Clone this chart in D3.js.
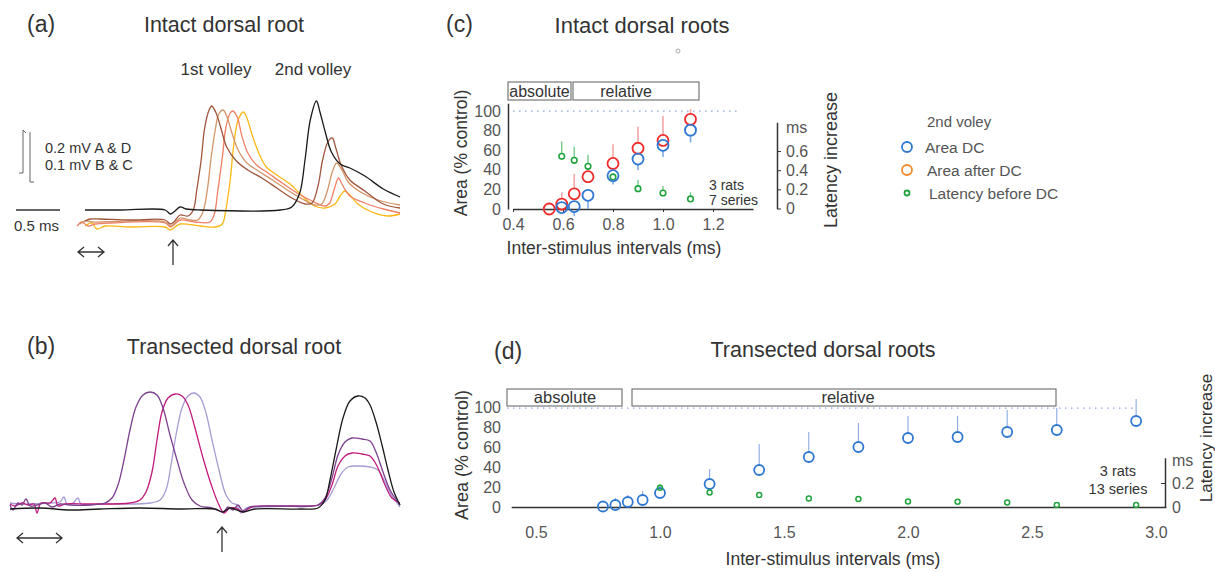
<!DOCTYPE html>
<html>
<head>
<meta charset="utf-8">
<title>Paired volleys, dorsal roots</title>
<script src="https://cdnjs.cloudflare.com/ajax/libs/d3/7.8.5/d3.min.js"></script>
<style>
    body { margin: 0; background: #fff; }
    svg { display: block; font-family: "Liberation Sans", Arial, sans-serif; }
</style>
</head>
<body>
<svg id="fig" width="1215" height="572"></svg>
<script>
//---------------- data ----------------
// (a) intact root, [time ms, amplitude mV]
const aControl = [[0,0],[0.40,0],[0.91,0],[0.97,-0.016],[1.01,-0.008],[1.08,0.012],[1.15,0.004],[1.31,0],[2.22,0],[2.35,0.012],[2.44,0.068],[2.50,0.2],[2.56,0.36],[2.63,0.436],[2.67,0.392],[2.73,0.312],[2.80,0.232],[2.90,0.184],[3.01,0.168],[3.18,0.136],[3.39,0.084],[3.58,0.052]]
const aIsi1 = [[0,-0.044],[0.057,-0.036],[0.17,-0.036],[0.51,-0.04],[0.91,-0.04],[0.97,-0.056],[1.01,-0.048],[1.08,-0.02],[1.17,-0.024],[1.23,0],[1.27,0.08],[1.32,0.2],[1.36,0.328],[1.41,0.4],[1.44,0.416],[1.49,0.388],[1.55,0.32],[1.61,0.252],[1.72,0.196],[1.85,0.16],[2.01,0.128],[2.18,0.088],[2.35,0.048],[2.50,0.024],[2.58,0.028],[2.65,0.1],[2.70,0.2],[2.76,0.272],[2.81,0.288],[2.85,0.248],[2.91,0.18],[3.01,0.12],[3.18,0.076],[3.39,0.024],[3.58,0.008]]
const aIsi2 = [[-0.057,-0.056],[0,-0.044],[0.08,-0.048],[0.17,-0.048],[0.91,-0.048],[0.97,-0.064],[1.01,-0.056],[1.08,-0.032],[1.19,-0.04],[1.28,-0.04],[1.34,-0.008],[1.39,0.08],[1.43,0.2],[1.48,0.32],[1.52,0.384],[1.57,0.4],[1.61,0.376],[1.67,0.308],[1.74,0.24],[1.84,0.188],[1.97,0.156],[2.13,0.12],[2.30,0.08],[2.47,0.044],[2.61,0.02],[2.69,0.024],[2.75,0.072],[2.81,0.152],[2.86,0.188],[2.92,0.16],[2.99,0.112],[3.13,0.072],[3.33,0.04],[3.58,0.02]]
const aIsi3 = [[-0.09,-0.064],[-0.034,-0.048],[0.034,-0.064],[0.114,-0.056],[0.28,-0.052],[0.91,-0.052],[0.97,-0.068],[1.01,-0.06],[1.08,-0.04],[1.25,-0.048],[1.42,-0.048],[1.47,-0.016],[1.51,0.08],[1.56,0.208],[1.60,0.328],[1.65,0.388],[1.68,0.396],[1.73,0.372],[1.78,0.30],[1.85,0.228],[1.95,0.18],[2.08,0.148],[2.24,0.108],[2.41,0.068],[2.58,0.036],[2.73,0.016],[2.78,0.028],[2.83,0.08],[2.88,0.128],[2.92,0.104],[3.01,0.056],[3.18,0.028],[3.39,0.004],[3.58,-0.012]]
const aIsi4 = [[0,-0.064],[0.08,-0.052],[0.136,-0.076],[0.23,-0.064],[0.51,-0.068],[0.91,-0.068],[0.97,-0.08],[1.01,-0.072],[1.08,-0.056],[1.31,-0.064],[1.48,-0.068],[1.56,-0.056],[1.60,0],[1.65,0.12],[1.69,0.26],[1.74,0.36],[1.80,0.392],[1.84,0.368],[1.90,0.30],[1.97,0.232],[2.06,0.172],[2.18,0.14],[2.33,0.104],[2.47,0.056],[2.61,0.016],[2.73,0.008],[2.84,0.024],[2.90,0.056],[2.95,0.076],[3.01,0.06],[3.10,0.024],[3.26,-0.008],[3.44,-0.024],[3.58,-0.016]]

// (b) transected root, [time ms, amplitude uV]
const bControl = [[0,-2],[0.30,0],[0.60,-4],[0.90,-2],[1.30,0],[1.70,-2],[2.05,-2],[2.13,-8],[2.20,0],[2.33,-8],[2.45,-2],[2.90,-2],[3.08,0],[3.15,16],[3.20,56],[3.26,116],[3.33,180],[3.40,214],[3.48,224],[3.55,220],[3.60,206],[3.66,172],[3.72,126],[3.78,76],[3.84,32],[3.90,6]]
const bIsi1 = [[0,6],[0.03,-4],[0.08,10],[0.12,6],[0.16,18],[0.20,4],[0.27,6],[0.35,10],[0.42,2],[0.50,8],[0.60,6],[0.80,6],[0.95,10],[1.02,20],[1.08,46],[1.14,96],[1.20,156],[1.26,202],[1.33,226],[1.40,232],[1.47,226],[1.53,200],[1.60,146],[1.67,96],[1.74,50],[1.82,16],[1.90,4],[2.02,0],[2.13,-8],[2.18,2],[2.23,-4],[2.28,6],[2.33,-6],[2.40,2],[2.70,4],[3.08,6],[3.15,20],[3.22,60],[3.28,106],[3.35,132],[3.42,140],[3.52,138],[3.60,134],[3.66,112],[3.73,72],[3.80,36],[3.90,6]]
const bIsi2 = [[0,8],[0.05,4],[0.12,10],[0.18,6],[0.24,8],[0.27,-10],[0.31,10],[0.40,10],[0.45,20],[0.48,4],[0.55,8],[0.80,8],[1.20,10],[1.30,16],[1.36,32],[1.42,72],[1.47,136],[1.52,192],[1.58,220],[1.65,228],[1.72,224],[1.78,206],[1.85,160],[1.93,100],[2.02,42],[2.09,6],[2.14,-10],[2.20,0],[2.26,0],[2.33,-8],[2.42,2],[2.80,4],[3.08,6],[3.15,16],[3.22,46],[3.28,84],[3.35,104],[3.42,110],[3.52,108],[3.60,104],[3.67,84],[3.75,46],[3.82,20],[3.90,10]]
const bIsi3 = [[0,10],[0.10,8],[0.40,10],[0.50,12],[0.54,22],[0.57,8],[0.63,10],[0.68,20],[0.71,8],[0.90,8],[1.40,10],[1.50,16],[1.56,36],[1.61,86],[1.66,146],[1.72,200],[1.78,224],[1.84,230],[1.90,222],[1.96,190],[2.02,136],[2.09,76],[2.16,26],[2.22,10],[2.27,6],[2.31,-10],[2.36,0],[2.50,2],[2.90,4],[3.10,6],[3.17,16],[3.24,40],[3.31,68],[3.38,82],[3.48,84],[3.60,82],[3.68,76],[3.75,52],[3.82,24],[3.90,2]]

// (c) intact roots, second volley
const cIsiAfter = [0.545, 0.595, 0.645, 0.70, 0.80, 0.90, 1.00, 1.11]
const cAreaAfter = [0, 5, 15.5, 33, 46.5, 62, 70, 91.5]
const cAreaAfterTop = [null, 17, 36, null, 66, 84, 95, 102]
const cIsi = [0.595, 0.645, 0.70, 0.80, 0.90, 1.00, 1.11]
const cAreaDC = [1.5, 2.5, 14, 34, 51, 65, 80.5]
const cAreaDCLow = [-4, -7, 0, 25, 39.5, 53, 68]
const cLatency = [0.545, 0.503, 0.44, 0.33, 0.207, 0.162, 0.10]
const cLatencyTop = [0.70, 0.645, 0.56, 0.36, 0.30, 0.235, 0.17]

// (d) transected roots
const dIsi = [0.77, 0.82, 0.87, 0.93, 1.0, 1.2, 1.4, 1.6, 1.8, 2.0, 2.2, 2.4, 2.6, 2.92]
const dAreaDC = [0.5, 2, 5, 7, 14, 23, 37, 50, 60, 69, 70, 75, 77, 86]
const dAreaDCTop = [null, 9, 12, 16, null, 38, 63, 75, 84, 91, 91, 97, 99, 108]
const dLatIsi = [1.0, 1.2, 1.4, 1.6, 1.8, 2.0, 2.2, 2.4, 2.6, 2.92]
const dLatency = [0.16, 0.12, 0.10, 0.07, 0.066, 0.045, 0.043, 0.037, 0.017, 0.017]
const dLatencyTop = [0.19, null, null, null, null, null, null, null, null, null]

// ticks
const cXTicks = [0.4, 0.6, 0.8, 1.0, 1.2]
const areaTicks = [0, 20, 40, 60, 80, 100]
const cLatTicks = [0, 0.2, 0.4, 0.6]
const dXTicks = [0.5, 1.0, 1.5, 2.0, 2.5, 3.0]
const dLatTicks = [0, 0.2]
const legendLabels = ["Area DC", "Area after DC", "Latency before DC"]

//---------------- style ----------------
const INK = "#333"
const GREY = "#555"
const BLUE = "#2f78d2"
const RED = "#f02a2a"
const ORANGE = "#f38b2e"
const GREEN = "#22a33e"

const svg = d3.select("#fig")

function label(x, y, s, size, opt = {}) {
    return svg.append("text")
        .attr("x", x).attr("y", y)
        .attr("font-size", size)
        .attr("fill", opt.fill || INK)
        .attr("text-anchor", opt.anchor || "start")
        .attr("transform", opt.rotate ? `rotate(-90, ${x}, ${y})` : null)
        .text(s)
}

function hArrow(x1, x2, y) {
    svg.append("path")
        .attr("d", `M${x1},${y}H${x2}M${x1+6},${y-5}L${x1},${y}L${x1+6},${y+5}M${x2-6},${y-5}L${x2},${y}L${x2-6},${y+5}`)
        .attr("fill", "none").attr("stroke", INK).attr("stroke-width", 1.3)
}
function upArrow(x, y1, y2) {
    svg.append("path")
        .attr("d", `M${x},${y1}V${y2}M${x-5},${y2+6}L${x},${y2}L${x+5},${y2+6}`)
        .attr("fill", "none").attr("stroke", INK).attr("stroke-width", 1.3)
}

function drawTraces(traces, xs, ys) {
    const line = d3.line()
        .x(d => xs(d[0]))
        .y(d => ys(d[1]))
        .curve(d3.curveCatmullRom.alpha(0.5))
    svg.append("g").selectAll("path")
        .data(traces)
        .enter()
        .append("path")
        .attr("d", d => line(d.data))
        .attr("fill", "none")
        .attr("stroke", d => d.color)
        .attr("stroke-width", 1.3)
}

function styleAxis(g, size, fill) {
    g.attr("font-family", null)
    g.selectAll(".domain").attr("stroke", INK).attr("stroke-width", 1.5)
    g.selectAll(".tick line").attr("stroke", INK)
    g.selectAll("text").attr("font-size", size).attr("fill", fill)
}

//---------------- panel (a) ----------------
const xA = d3.scaleLinear().domain([0, 3.6]).range([85, 401.8])
const yA = d3.scaleLinear().domain([0, 0.4]).range([210, 110])

label(27, 32, "(a)", 23)
label(224, 32, "Intact dorsal root", 21.5, {anchor: "middle"})
label(216, 75, "1st volley", 17, {anchor: "middle"})
label(313, 75, "2nd volley", 17, {anchor: "middle"})

drawTraces([
    {data: aIsi4, color: "#f9b815"},
    {data: aIsi3, color: "#f07f66"},
    {data: aIsi2, color: "#d39468"},
    {data: aIsi1, color: "#a0553c"},
    {data: aControl, color: "#1a1a1a"}
], xA, yA)

// calibration bars
const barH = yA(0) - yA(0.2)
svg.append("path")
    .attr("d", `M26,133L23,130V${130 + barH * 0.86}H19M30,132V${132 + barH}H34`)
    .attr("fill", "none").attr("stroke", "#666").attr("stroke-width", 1)
label(45, 153, "0.2 mV A & D", 14.5)
label(45, 170, "0.1 mV B & C", 14.5)
svg.append("line")
    .attr("x1", 16).attr("x2", 16 + xA(0.5) - xA(0))
    .attr("y1", 210).attr("y2", 210)
    .attr("stroke", INK).attr("stroke-width", 1.3)
label(14, 231, "0.5 ms", 15)
hArrow(78, 104, 252)
upArrow(173, 265, 240)

//---------------- panel (b) ----------------
const xB = d3.scaleLinear().domain([0, 3.9]).range([10, 400])
const yB = d3.scaleLinear().domain([0, 200]).range([508, 408])

label(27, 354, "(b)", 23)
label(234, 354, "Transected dorsal root", 21.5, {anchor: "middle"})

drawTraces([
    {data: bIsi3, color: "#a99bd4"},
    {data: bIsi2, color: "#c01b7d"},
    {data: bIsi1, color: "#7e3f8f"},
    {data: bControl, color: "#1a1a1a"}
], xB, yB)

hArrow(17, 62, 538)
upArrow(222, 552, 527)

//---------------- panel (c) ----------------
const xC = d3.scaleLinear().domain([0.4, 1.36]).range([513, 753])
const yC = d3.scaleLinear().domain([0, 108]).range([209, 103.2])
const latC = d3.scaleLinear().domain([0, 0.9]).range([208.5, 122.3])

label(446, 32, "(c)", 23)
label(642, 33, "Intact dorsal roots", 22, {anchor: "middle"})
svg.append("circle").attr("cx", 678).attr("cy", 51).attr("r", 2)
    .attr("fill", "none").attr("stroke", "#aaa")

// refractory period boxes
function periodBox(x0, x1, y0, y1, s, tx, size) {
    svg.append("rect").attr("x", x0).attr("y", y0)
        .attr("width", x1 - x0).attr("height", y1 - y0)
        .attr("fill", "none").attr("stroke", "#777").attr("stroke-width", 1.2)
    label(tx, y1 - 3, s, size, {anchor: "middle"})
}
periodBox(508, 571, 82, 100, "absolute", 539.5, 16)
periodBox(573, 699, 82, 100, "relative", 626, 16)

svg.append("line")
    .attr("x1", xC(0.4)).attr("x2", 738).attr("y1", yC(100)).attr("y2", yC(100))
    .attr("stroke", "#8aa6e2").attr("stroke-width", 1.3).attr("stroke-dasharray", "1.5,4.5")

svg.append("g").attr("transform", "translate(0,209)")
    .call(d3.axisBottom(xC).tickValues(cXTicks).tickSize(3).tickSizeOuter(0).tickPadding(7).tickFormat(d3.format(".1f")))
    .call(g => styleAxis(g, 16, GREY))
svg.append("g").attr("transform", "translate(508,0)")
    .call(d3.axisLeft(yC).tickValues(areaTicks).tickSize(0).tickPadding(7))
    .call(g => styleAxis(g, 16, GREY))
svg.append("g").attr("transform", "translate(777,0)")
    .call(d3.axisRight(latC).tickValues(cLatTicks).tickSize(4).tickSizeOuter(0).tickPadding(5)
        .tickFormat(v => v === 0 ? "0" : d3.format(".1f")(v)))
    .call(g => styleAxis(g, 16, GREY))
label(786, 133, "ms", 16, {fill: GREY})

label(467, 153, "Area (% control)", 17.5, {anchor: "middle", rotate: true})
label(614, 254, "Inter-stimulus intervals (ms)", 17.5, {anchor: "middle"})
label(837, 160, "Latency increase", 18, {anchor: "middle", rotate: true})
label(709, 190, "3 rats", 14)
label(709, 205, "7 series", 14)

const cPlot = svg.append("g")
// latency before DC
cPlot.selectAll(".latBar").data(cIsi).enter().append("line")
    .attr("x1", d => xC(d)).attr("x2", d => xC(d))
    .attr("y1", (d, i) => latC(cLatency[i]) - 3).attr("y2", (d, i) => latC(cLatencyTop[i]))
    .attr("stroke", "#6cc783").attr("stroke-width", 1.3)
cPlot.selectAll(".lat").data(cIsi).enter().append("circle")
    .attr("cx", d => xC(d)).attr("cy", (d, i) => latC(cLatency[i])).attr("r", 2.8)
    .attr("fill", "none").attr("stroke", GREEN).attr("stroke-width", 1.6)
// area after DC (error up)
cPlot.selectAll(".afterBar").data(cIsiAfter.filter((d, i) => cAreaAfterTop[i] !== null)).enter().append("line")
    .attr("x1", d => xC(d)).attr("x2", d => xC(d))
    .attr("y1", d => yC(cAreaAfter[cIsiAfter.indexOf(d)]) - 5.5)
    .attr("y2", d => yC(cAreaAfterTop[cIsiAfter.indexOf(d)]))
    .attr("stroke", "#f6a6a6").attr("stroke-width", 1.6)
// area DC (error down)
cPlot.selectAll(".dcBar").data(cIsi).enter().append("line")
    .attr("x1", d => xC(d)).attr("x2", d => xC(d))
    .attr("y1", (d, i) => yC(cAreaDC[i]) + 5.5).attr("y2", (d, i) => yC(cAreaDCLow[i]))
    .attr("stroke", "#7eaae3").attr("stroke-width", 1.6)
cPlot.selectAll(".after").data(cIsiAfter).enter().append("circle")
    .attr("cx", d => xC(d)).attr("cy", (d, i) => yC(cAreaAfter[i])).attr("r", 5.5)
    .attr("fill", "none").attr("stroke", RED).attr("stroke-width", 1.8)
cPlot.selectAll(".dc").data(cIsi).enter().append("circle")
    .attr("cx", d => xC(d)).attr("cy", (d, i) => yC(cAreaDC[i])).attr("r", 5.5)
    .attr("fill", "none").attr("stroke", BLUE).attr("stroke-width", 1.8)

// legend
label(927, 127, "2nd voley", 15, {fill: GREY})
const legend = svg.append("g").selectAll("g").data(legendLabels).enter().append("g")
    .attr("transform", (d, i) => `translate(907, ${147 + i * 23})`)
legend.append("circle")
    .attr("r", (d, i) => i === 2 ? 2.5 : 5)
    .attr("fill", "none")
    .attr("stroke", (d, i) => [BLUE, ORANGE, GREEN][i])
    .attr("stroke-width", 1.8)
legend.append("text")
    .attr("x", (d, i) => 18 + i * 2).attr("y", 5.5)
    .attr("font-size", 15.5).attr("fill", GREY)
    .text(d => d)

//---------------- panel (d) ----------------
const xD = d3.scaleLinear().domain([0.4, 3.04]).range([511.2, 1165.9])
const yD = d3.scaleLinear().domain([0, 100]).range([507, 407])
const latD = d3.scaleLinear().domain([0, 0.41]).range([507, 457.8])

label(494, 359, "(d)", 23)
label(823, 357, "Transected dorsal roots", 21.5, {anchor: "middle"})

periodBox(507, 622, 389, 406, "absolute", 565, 16.5)
periodBox(632, 1056, 389, 406, "relative", 848, 16.5)

svg.append("line")
    .attr("x1", 507).attr("x2", 1133).attr("y1", yD(98.8)).attr("y2", yD(98.8))
    .attr("stroke", "#8aa6e2").attr("stroke-width", 1.2).attr("stroke-dasharray", "1.5,4.5")

svg.append("g").attr("transform", "translate(0,507)")
    .call(d3.axisBottom(xD).tickValues(dXTicks).tickSize(0).tickPadding(20).tickFormat(d3.format(".1f")))
    .call(g => styleAxis(g, 16, GREY))
svg.append("g").attr("transform", "translate(507,0)")
    .call(d3.axisLeft(yD).tickValues(areaTicks).tickSize(0).tickPadding(6))
    .call(g => styleAxis(g, 16, GREY))
    .call(g => g.select(".domain").remove())
svg.append("g").attr("transform", "translate(1165,0)")
    .call(d3.axisRight(latD).tickValues(dLatTicks).tickSizeInner(-4).tickSizeOuter(0).tickPadding(7)
        .tickFormat(v => v === 0 ? "0" : d3.format(".1f")(v)))
    .call(g => styleAxis(g, 16, GREY))
label(1172, 466, "ms", 16, {fill: GREY})

label(468, 455, "Area (% control)", 18, {anchor: "middle", rotate: true})
label(833, 565, "Inter-stimulus intervals (ms)", 17.5, {anchor: "middle"})
label(1212, 438, "Latency increase", 17, {anchor: "middle", rotate: true})
label(1118, 476, "3 rats", 14.5, {anchor: "middle"})
label(1118, 494, "13 series", 14.5, {anchor: "middle"})

const dPlot = svg.append("g")
dPlot.selectAll(".dcBar").data(dIsi.filter((d, i) => dAreaDCTop[i] !== null)).enter().append("line")
    .attr("x1", d => xD(d)).attr("x2", d => xD(d))
    .attr("y1", d => yD(dAreaDC[dIsi.indexOf(d)]) - 5)
    .attr("y2", d => yD(dAreaDCTop[dIsi.indexOf(d)]))
    .attr("stroke", "#8aaae2").attr("stroke-width", 1.1)
dPlot.selectAll(".latBar").data(dLatIsi.filter((d, i) => dLatencyTop[i] !== null)).enter().append("line")
    .attr("x1", d => xD(d)).attr("x2", d => xD(d))
    .attr("y1", d => latD(dLatency[dLatIsi.indexOf(d)]))
    .attr("y2", d => latD(dLatencyTop[dLatIsi.indexOf(d)]))
    .attr("stroke", "#6cc783").attr("stroke-width", 1.3)
dPlot.selectAll(".dc").data(dIsi).enter().append("circle")
    .attr("cx", d => xD(d)).attr("cy", (d, i) => yD(dAreaDC[i])).attr("r", 5)
    .attr("fill", "none").attr("stroke", BLUE).attr("stroke-width", 1.8)
dPlot.selectAll(".lat").data(dLatIsi).enter().append("circle")
    .attr("cx", d => xD(d)).attr("cy", (d, i) => latD(dLatency[i])).attr("r", 2.5)
    .attr("fill", "none").attr("stroke", GREEN).attr("stroke-width", 1.5)
</script>
</body>
</html>
